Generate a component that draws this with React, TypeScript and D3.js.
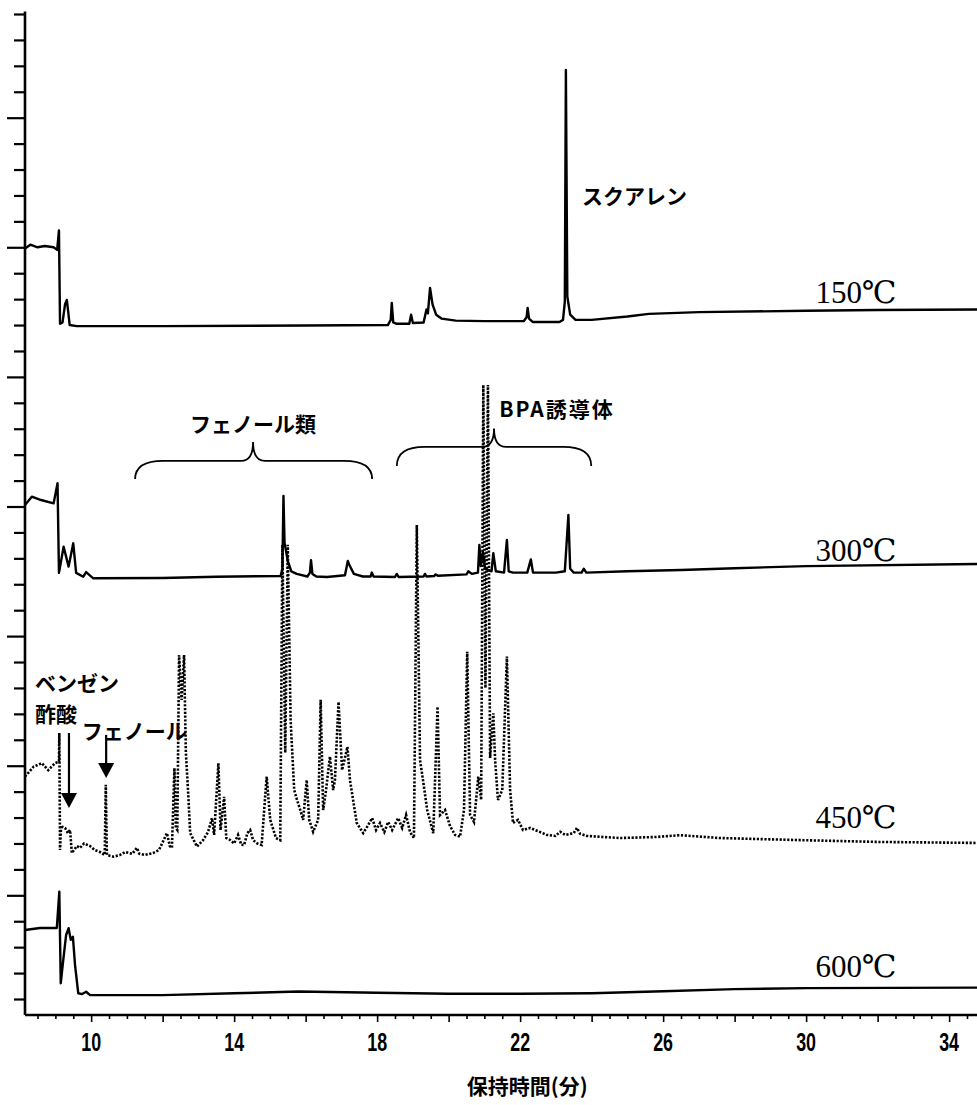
import React, { useEffect, useRef } from "react";
import * as d3 from "d3";

// retention time (min) / detector response (axis tick units)
const trace150: [number, number][] = [
  [8.15, 28.95], [8.3, 29.1], [8.5, 29.0], [8.7, 29.05], [8.95, 29.0], [9.05, 28.9], [9.1, 29.65],
  [9.13, 26.05], [9.2, 26.1], [9.27, 26.8], [9.32, 26.97], [9.36, 26.5], [9.4, 26.0], [9.6, 25.96],
  [12, 25.96], [16, 25.98], [18.3, 26.0], [18.38, 26.2], [18.41, 26.85], [18.45, 26.1], [18.55, 26.05],
  [18.9, 26.05], [18.95, 26.4], [19.0, 26.08], [19.3, 26.1], [19.38, 26.6], [19.42, 26.45], [19.48, 27.43],
  [19.55, 26.8], [19.65, 26.4], [19.8, 26.25], [20.2, 26.17], [21, 26.15], [22.1, 26.15], [22.18, 26.3],
  [22.21, 26.66], [22.25, 26.25], [22.35, 26.12], [23.1, 26.12], [23.2, 26.2], [23.25, 26.9], [23.28, 35.84],
  [23.32, 27.1], [23.4, 26.4], [23.55, 26.2], [24, 26.2], [25, 26.33], [25.6, 26.43], [27, 26.5], [30, 26.55],
  [32, 26.58], [34.78, 26.6],
];

const trace300: [number, number][] = [
  [8.15, 19.06], [8.34, 19.38], [8.6, 19.25], [8.95, 19.12], [9.06, 19.9], [9.1, 16.44], [9.23, 17.45],
  [9.37, 16.68], [9.5, 17.58], [9.58, 16.44], [9.78, 16.29], [9.86, 16.47], [10.06, 16.23], [12, 16.24],
  [13.5, 16.29], [15.3, 16.32], [15.35, 16.6], [15.38, 19.41], [15.41, 17.6], [15.45, 17.3], [15.5, 16.9],
  [15.6, 16.5], [15.75, 16.4], [16.05, 16.3], [16.12, 16.45], [16.15, 16.93], [16.19, 16.4], [16.3, 16.3],
  [16.6, 16.28], [17.1, 16.35], [17.18, 16.9], [17.22, 16.75], [17.35, 16.4], [17.6, 16.3], [17.82, 16.3],
  [17.85, 16.45], [17.9, 16.3], [18.5, 16.28], [18.55, 16.4], [18.6, 16.28], [19.3, 16.3], [19.34, 16.4],
  [19.38, 16.3], [19.6, 16.32], [19.63, 16.38], [19.7, 16.33], [20.5, 16.38], [20.55, 16.5], [20.65, 16.4],
  [20.82, 16.45], [20.86, 17.52], [20.9, 16.7], [20.96, 17.26], [21.02, 16.6], [21.2, 16.5], [21.25, 17.2],
  [21.32, 16.5], [21.55, 16.45], [21.63, 17.71], [21.68, 16.5], [21.8, 16.45], [22.2, 16.45], [22.3, 16.96],
  [22.36, 16.45], [23.0, 16.45], [23.25, 16.5], [23.35, 18.67], [23.4, 16.6], [23.5, 16.45], [23.72, 16.45],
  [23.78, 16.6], [23.85, 16.45], [25, 16.5], [26.5, 16.55], [28, 16.62], [30, 16.7], [34.78, 16.78],
];

const trace450: [number, number][] = [
  [8.15, 8.58], [8.39, 8.96], [8.62, 9.1], [8.8, 8.83], [8.99, 9.1], [9.1, 9.16], [9.11, 10.26], [9.13, 5.75],
  [9.16, 6.7], [9.18, 6.65], [9.27, 6.6], [9.35, 6.4], [9.41, 6.52], [9.46, 5.63], [9.6, 5.9], [9.69, 5.83],
  [9.8, 6.0], [9.97, 5.9], [10.1, 5.75], [10.25, 5.67], [10.38, 5.56], [10.41, 8.26], [10.44, 5.56],
  [10.62, 5.49], [10.8, 5.55], [10.95, 5.67], [11.15, 5.6], [11.28, 5.83], [11.35, 5.6], [11.51, 5.56],
  [11.73, 5.63], [11.9, 5.75], [12.12, 6.4], [12.2, 5.9], [12.26, 5.83], [12.33, 8.91], [12.37, 6.6],
  [12.41, 6.52], [12.46, 13.27], [12.53, 11.54], [12.6, 13.27], [12.65, 9.5], [12.71, 8.06], [12.77, 6.4],
  [12.96, 5.88], [13.13, 6.13], [13.27, 6.44], [13.38, 6.98], [13.44, 6.33], [13.56, 9.1], [13.62, 6.52],
  [13.72, 7.8], [13.78, 6.21], [13.89, 6.13], [14.0, 6.0], [14.11, 6.33], [14.2, 5.95], [14.28, 5.94],
  [14.37, 6.4], [14.45, 6.52], [14.53, 6.13], [14.65, 6.0], [14.77, 5.94], [14.84, 7.29], [14.91, 8.58],
  [15.01, 6.91], [15.17, 6.21], [15.29, 6.13], [15.35, 17.52], [15.43, 9.5], [15.5, 17.52], [15.58, 10.76],
  [15.68, 8.06], [15.76, 7.68], [15.85, 7.29], [15.93, 6.91], [16.03, 8.45], [16.1, 6.91], [16.21, 6.45],
  [16.35, 6.91], [16.42, 11.54], [16.49, 7.29], [16.57, 8.06], [16.68, 9.35], [16.77, 8.06], [16.82, 8.45],
  [16.92, 11.46], [17.02, 8.83], [17.17, 9.73], [17.24, 8.45], [17.43, 6.79], [17.61, 6.4], [17.75, 6.71],
  [17.86, 6.98], [17.97, 6.52], [18.08, 6.79], [18.2, 6.44], [18.31, 6.83], [18.42, 6.52], [18.59, 6.98],
  [18.7, 6.6], [18.81, 7.1], [18.92, 6.44], [19.03, 6.21], [19.11, 18.29], [19.2, 9.22], [19.29, 8.38],
  [19.4, 7.29], [19.57, 6.4], [19.69, 11.28], [19.76, 7.1], [19.9, 7.29], [20.04, 6.67], [20.18, 6.33],
  [20.32, 6.26], [20.43, 7.29], [20.52, 13.4], [20.6, 7.1], [20.71, 6.83], [20.83, 8.58], [20.91, 7.68],
  [20.97, 23.69], [21.03, 12.0], [21.1, 23.69], [21.16, 9.3], [21.25, 11.02], [21.3, 9.22], [21.38, 7.68],
  [21.5, 8.06], [21.63, 13.21], [21.72, 8.06], [21.8, 6.79], [21.94, 6.91], [22.08, 6.52], [22.28, 6.6],
  [22.42, 6.52], [22.75, 6.33], [22.98, 6.29], [23.12, 6.45], [23.26, 6.33], [23.5, 6.4], [23.59, 6.6],
  [23.68, 6.37], [23.87, 6.29], [24.8, 6.21], [25.8, 6.25], [26.48, 6.32], [27.59, 6.21], [29.83, 6.13],
  [32, 6.06], [34.78, 6.02],
];

const trace600: [number, number][] = [
  [8.15, 2.66], [8.57, 2.74], [9.04, 2.74], [9.11, 4.14], [9.15, 0.61], [9.22, 1.5], [9.3, 2.47],
  [9.37, 2.73], [9.43, 2.28], [9.49, 2.4], [9.55, 1.31], [9.64, 0.22], [9.75, 0.19], [9.86, 0.28],
  [9.97, 0.15], [12, 0.15], [14, 0.22], [15.8, 0.29], [18, 0.24], [20, 0.2], [22, 0.2], [24, 0.22],
  [26, 0.3], [28, 0.38], [30, 0.42], [34.78, 0.44],
];

const seriesLabels = ["150℃", "300℃", "450℃", "600℃"];
const seriesLabelY = [27.24, 17.32, 7.02, 1.27];
const xTickLabels = [10, 14, 18, 22, 26, 30, 34];

export default function App() {
  const ref = useRef<SVGSVGElement>(null);

  useEffect(() => {
    if (!ref.current) return;
    const W = 977, H = 1105;
    const svg = d3.select(ref.current).attr("width", W).attr("height", H);
    svg.selectAll("*").remove();

    const x = d3.scaleLinear().domain([8.15, 34.78]).range([25, 977]);
    const y = d3.scaleLinear().domain([0, 38]).range([999, 14]);
    const axisY = y(-0.62);
    const jp = "'Noto Sans CJK JP', sans-serif";

    const line = d3.line<[number, number]>().x(d => x(d[0])).y(d => y(d[1]));

    // traces
    [trace150, trace300, trace600].forEach(tr => {
      svg.append("path").attr("d", line(tr)).attr("fill", "none")
        .attr("stroke", "#000").attr("stroke-width", 2.4).attr("stroke-linejoin", "round");
    });
    svg.append("path").attr("d", line(trace450)).attr("fill", "none")
      .attr("stroke", "#000").attr("stroke-width", 2.6).attr("stroke-dasharray", "2.2,1.6");

    // y axis
    const yAxis = svg.append("g").attr("transform", `translate(${x(8.15)},0)`)
      .call(d3.axisLeft(y).tickValues(d3.range(0, 39)).tickFormat(() => "").tickSizeOuter(0));
    yAxis.select(".domain").remove();
    yAxis.selectAll(".tick line").attr("stroke", "#000").attr("stroke-width", 2.2)
      .attr("x2", (d: any) => (d % 5 === 4 ? -18 : -11));
    svg.append("line").attr("x1", x(8.15)).attr("x2", x(8.15)).attr("y1", y(38.1)).attr("y2", axisY)
      .attr("stroke", "#000").attr("stroke-width", 2.6);

    // x axis
    const xAxis = svg.append("g").attr("transform", `translate(0,${axisY})`)
      .call(d3.axisBottom(x).tickValues(d3.range(8.5, 34.8, 0.5)).tickFormat(() => "").tickSizeOuter(0));
    xAxis.select(".domain").remove();
    xAxis.selectAll(".tick line").attr("stroke", "#000").attr("stroke-width", 1.6)
      .attr("y2", (d: any) => (d % 2 === 0 ? 7 : 4));
    svg.append("line").attr("x1", x(8.15)).attr("x2", 977).attr("y1", axisY).attr("y2", axisY)
      .attr("stroke", "#000").attr("stroke-width", 2.6);
    const labY = axisY + 27;
    svg.append("g").selectAll("text").data(xTickLabels).enter().append("text")
      .attr("text-anchor", "middle").attr("dominant-baseline", "central")
      .attr("transform", d => `translate(${x(d)},${labY}) scale(0.85,1.2)`)
      .style("font-family", "'Liberation Sans', Arial, sans-serif")
      .style("font-weight", "bold").style("font-size", "21px").text(d => d);
    svg.append("text").attr("x", x(22.2)).attr("y", 1085).attr("text-anchor", "middle")
      .attr("dominant-baseline", "central").style("font-family", jp).style("font-weight", "bold")
      .style("font-size", "21px").text("保持時間(分)");

    // series labels
    svg.append("g").selectAll("text").data(seriesLabels).enter().append("text")
      .attr("x", x(31.4)).attr("y", (d, i) => y(seriesLabelY[i])).attr("text-anchor", "middle")
      .attr("dominant-baseline", "central")
      .style("font-family", "'Liberation Serif', 'DejaVu Serif', serif").style("font-size", "31px")
      .text(d => d);

    // annotations
    const ann = (t: number, v: number, s: string, anchor = "start", ls = 0) =>
      svg.append("text").attr("x", x(t)).attr("y", y(v)).attr("text-anchor", anchor)
        .attr("dominant-baseline", "central").style("font-family", jp).style("font-weight", "bold")
        .style("font-size", "21px").style("letter-spacing", `${ls}px`).text(s);
    ann(23.73, 31.02, "スクアレン");
    ann(14.53, 22.22, "フェノール類", "middle");
    ann(23.03, 22.8, "BPA誘導体", "middle", 2);
    ann(8.43, 12.24, "ベンゼン");
    ann(8.43, 11.03, "酢酸");
    ann(9.74, 10.38, "フェノール");

    const brace = (t0: number, tc: number, t1: number, vEnd: number, vH: number, vC: number) => {
      const x0 = x(t0), xc = x(tc), x1 = x(t1), ye = y(vEnd), yh = y(vH), yc = y(vC);
      const p = `M${x0},${ye} Q${x0},${yh} ${x0 + 28},${yh} L${xc - 12},${yh} Q${xc},${yh} ${xc},${yc}` +
        ` Q${xc},${yh} ${xc + 12},${yh} L${x1 - 28},${yh} Q${x1},${yh} ${x1},${ye}`;
      svg.append("path").attr("d", p).attr("fill", "none").attr("stroke", "#000").attr("stroke-width", 1.8);
    };
    brace(11.23, 14.53, 17.86, 20.06, 20.76, 21.49);
    brace(18.55, 21.27, 23.99, 20.56, 21.3, 22.01);

    const arrow = (t: number, v0: number, v1: number) => {
      const xa = x(t), ya = y(v0), yb = y(v1);
      svg.append("line").attr("x1", xa).attr("x2", xa).attr("y1", ya).attr("y2", yb - 14)
        .attr("stroke", "#000").attr("stroke-width", 2.2);
      svg.append("path").attr("d", `M${xa - 8},${yb - 15} L${xa + 8},${yb - 15} L${xa},${yb} Z`).attr("fill", "#000");
    };
    arrow(9.38, 10.26, 7.37);
    arrow(10.42, 10.19, 8.53);
  }, []);

  return <svg ref={ref} style={{ position: "absolute", left: 0, top: 0, background: "#fff" }} />;
}
